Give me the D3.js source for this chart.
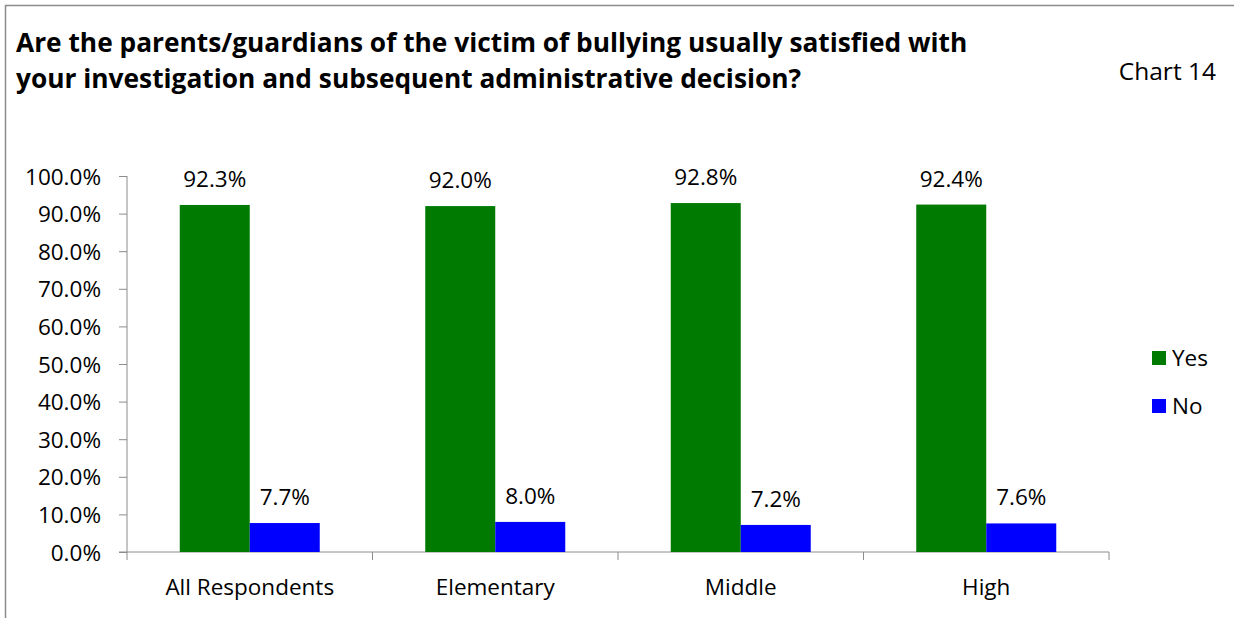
<!DOCTYPE html>
<html><head><meta charset="utf-8">
<script src="https://cdn.jsdelivr.net/npm/d3@7/dist/d3.min.js"></script>
<style>body{margin:0;background:#fff}svg{display:block}text{font-family:"Open Sans",sans-serif;fill:#000}</style>
</head><body><svg id="c" width="1234" height="618"></svg>
<script>
const categories = ["All Respondents","Elementary","Middle","High"];
const seriesNames = ["Yes","No"];
const yesValues = [92.3,92.0,92.8,92.4];
const noValues = [7.7,8.0,7.2,7.6];
const yTicks = [0,10,20,30,40,50,60,70,80,90,100];
const colors = ["#007A00","#0000FF"];
const FONT = "'Open Sans',sans-serif";

const svg = d3.select("#c");
svg.append("path").attr("d","M5.5,618 V5.5 H1234").attr("fill","none").attr("stroke","#8c8c8c").attr("stroke-width",1.5);

const title = svg.append("text").attr("x",16).attr("font-size",26.3).attr("font-weight","bold");
title.append("tspan").attr("x",16).attr("y",52).text("Are the parents/guardians of the victim of bullying usually satisfied with");
title.append("tspan").attr("x",16).attr("y",88).text("your investigation and subsequent administrative decision?");
svg.append("text").attr("x",1216).attr("y",80).attr("text-anchor","end").attr("font-size",24.5).text("Chart 14");

const x = d3.scaleBand().domain(categories).range([127,1109]).paddingInner(0).paddingOuter(0);
const y = d3.scaleLinear().domain([0,100]).range([552,176]);
const barW = 70;

const yAxis = svg.append("g").attr("transform","translate(127,0)")
  .call(d3.axisLeft(y).tickValues(yTicks).tickSize(8).tickPadding(18).tickFormat(d=>d.toFixed(1)+"%"));
yAxis.selectAll("text").attr("font-size",22.5).attr("font-family",FONT).attr("fill","#000").attr("dy","0.36em");
yAxis.selectAll("line,path").attr("stroke","#8c8c8c");
yAxis.select(".domain").attr("d","M0,176V552");

const xAxis = svg.append("g").attr("transform","translate(0,552)");
xAxis.append("line").attr("x1",119).attr("x2",1109).attr("stroke","#8c8c8c");
const bounds = categories.map(c=>x(c)).concat([x.range()[1]]);
xAxis.selectAll("line.t").data(bounds).join("line").attr("class","t")
  .attr("x1",d=>d).attr("x2",d=>d).attr("y1",0).attr("y2",8).attr("stroke","#8c8c8c");
xAxis.selectAll("text").data(categories).join("text")
  .attr("x",d=>x(d)+x.bandwidth()/2).attr("y",43).attr("text-anchor","middle").attr("font-size",22.5).text(d=>d);

const series = [yesValues,noValues];
series.forEach((vals,si)=>{
  const g = svg.append("g");
  g.selectAll("rect").data(vals).join("rect")
    .attr("x",(d,i)=>x(categories[i])+x.bandwidth()/2-barW+si*barW)
    .attr("y",d=>y(d)).attr("width",barW).attr("height",d=>y(0)-y(d))
    .attr("fill",colors[si]);
  g.selectAll("text").data(vals).join("text")
    .attr("x",(d,i)=>x(categories[i])+x.bandwidth()/2-barW/2+si*barW)
    .attr("y",d=>y(d)-18).attr("text-anchor","middle").attr("font-size",22.5)
    .text(d=>d.toFixed(1)+"%");
});

const leg = svg.append("g");
seriesNames.forEach((n,i)=>{
  leg.append("rect").attr("x",1152).attr("y",351+i*48).attr("width",14).attr("height",14).attr("fill",colors[i]);
  leg.append("text").attr("x",1172).attr("y",366+i*48).attr("font-size",22.5).text(n);
});
</script></body></html>
